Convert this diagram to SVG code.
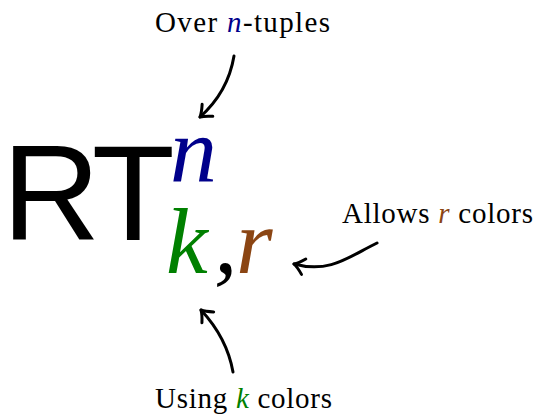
<svg xmlns="http://www.w3.org/2000/svg" width="539" height="416" viewBox="0 0 539 416">
<style>
.lbl{font-family:"Liberation Serif",serif;font-size:29px;fill:#000}
.it{font-style:italic}
.big{font-family:"Liberation Serif",serif;font-style:italic;font-size:94px}
.conn{fill:none;stroke:#000;stroke-width:3;stroke-linecap:round}
</style>
<defs>
<marker id="ah" markerUnits="userSpaceOnUse" viewBox="-12 -10 14 20" markerWidth="14" markerHeight="20" refX="0" refY="0" orient="auto">
<path d="M-10,-8 Q-4,-2 0,0 Q-4,2 -10,8" fill="none" stroke="#000" stroke-width="3" stroke-linecap="round" stroke-linejoin="round"/>
</marker>
</defs>
<rect width="539" height="416" fill="#fff"/>
<g id="formula">
<text x="2" y="240" font-family="Liberation Sans,Arial,sans-serif" font-size="136" letter-spacing="-6" fill="#000">RT</text>
<text class="big" x="170" y="182" fill="#00008b">n</text>
<text class="big" x="166" y="273" fill="#008000">k</text>
<text class="big" x="214" y="273" fill="#000" font-style="normal">,</text>
<text class="big" x="236" y="273" fill="#8b4513">r</text>
</g>
<g id="label-top">
<text class="lbl" x="155" y="32" textLength="175">Over <tspan class="it" fill="#00008b">n</tspan>-tuples</text>
</g>
<g id="label-right">
<text class="lbl" x="342" y="223" textLength="191">Allows <tspan class="it" fill="#8b4513">r</tspan> colors</text>
</g>
<g id="label-bottom">
<text class="lbl" x="155" y="408" textLength="177">Using <tspan class="it" fill="#008000">k</tspan> colors</text>
</g>
<g id="connectors">
<path class="conn" d="M234,56 Q228,92 200,117" marker-end="url(#ah)"/>
<path class="conn" d="M377,243 C350,256 330,274 294,264" marker-end="url(#ah)"/>
<path class="conn" d="M233,372 Q227,338 201,310" marker-end="url(#ah)"/>
</g>
</svg>
